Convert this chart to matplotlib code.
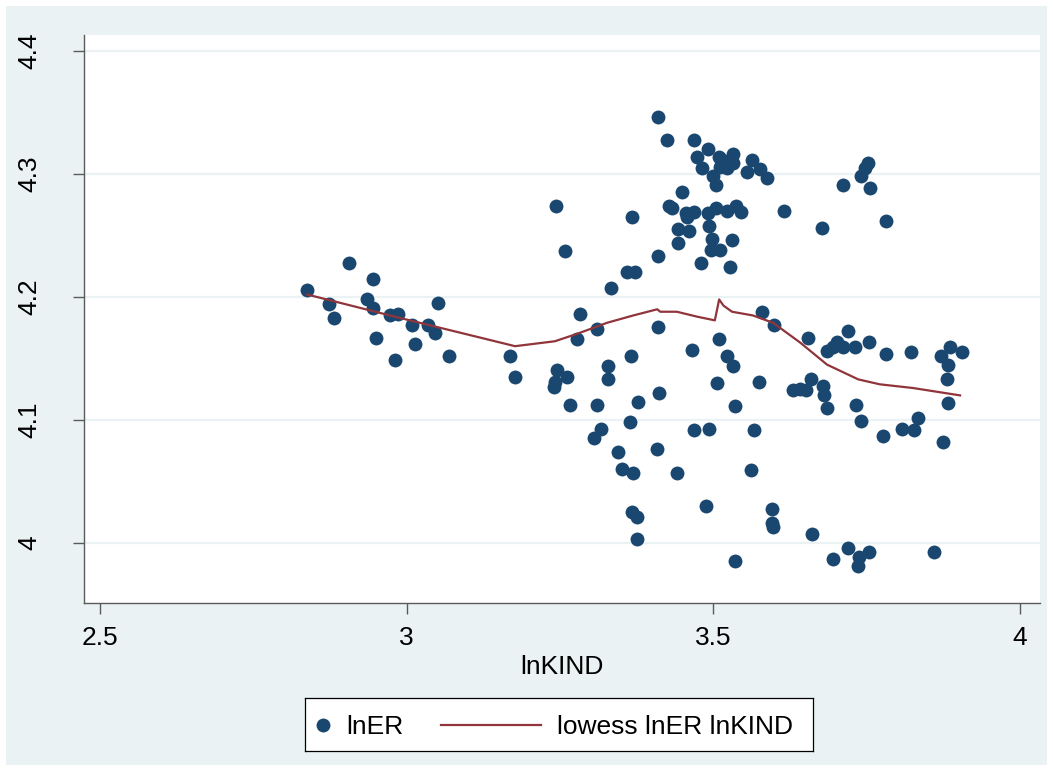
import matplotlib
matplotlib.use("Agg")
from matplotlib import pyplot as plt
from matplotlib.patches import Rectangle
from matplotlib.lines import Line2D

plt.rcParams['font.family'] = ['Liberation Sans', 'DejaVu Sans']

# scatter data
lnKIND = [2.838, 2.874, 2.882, 2.906, 2.945, 2.936, 2.945, 2.950, 2.973, 2.986,
          2.981, 3.009, 3.014, 3.035, 3.047, 3.051, 3.069,
          3.169, 3.177, 3.244, 3.259, 3.242, 3.241, 3.246, 3.262, 3.267, 3.283,
          3.311, 3.278, 3.311, 3.306, 3.317, 3.329, 3.329, 3.334, 3.360, 3.373,
          3.368, 3.366, 3.365, 3.345, 3.352, 3.370, 3.368, 3.376, 3.376, 3.378,
          3.410, 3.425, 3.410, 3.410, 3.412, 3.409, 3.441, 3.449, 3.428, 3.433,
          3.443, 3.443, 3.456, 3.458, 3.461, 3.469, 3.469, 3.474, 3.492, 3.482,
          3.510, 3.515, 3.533, 3.533, 3.523, 3.511, 3.500, 3.505, 3.492, 3.505,
          3.523, 3.538, 3.546, 3.493, 3.498, 3.497, 3.511, 3.531, 3.480, 3.528,
          3.466, 3.510, 3.523, 3.533, 3.507, 3.469, 3.493, 3.489, 3.536,
          3.564, 3.555, 3.577, 3.588, 3.616, 3.580, 3.600, 3.575, 3.567, 3.562,
          3.596, 3.596, 3.598, 3.536,
          3.655, 3.686, 3.696, 3.702, 3.712, 3.720, 3.732, 3.755, 3.782, 3.823,
          3.872, 3.887, 3.883, 3.906, 3.882, 3.883,
          3.631, 3.642, 3.652, 3.660, 3.679, 3.681, 3.686, 3.733, 3.741, 3.777,
          3.808, 3.828, 3.834, 3.875,
          3.662, 3.720, 3.696, 3.738, 3.755, 3.737, 3.861,
          3.753, 3.748, 3.741, 3.712, 3.756, 3.678, 3.782]

lnER = [4.206, 4.194, 4.183, 4.228, 4.215, 4.198, 4.191, 4.167, 4.185, 4.186,
        4.149, 4.177, 4.162, 4.177, 4.171, 4.195, 4.152,
        4.152, 4.135, 4.274, 4.237, 4.131, 4.127, 4.141, 4.135, 4.112, 4.186,
        4.174, 4.166, 4.112, 4.085, 4.093, 4.144, 4.133, 4.207, 4.220, 4.220,
        4.265, 4.152, 4.098, 4.074, 4.060, 4.057, 4.025, 4.021, 4.003, 4.115,
        4.346, 4.328, 4.233, 4.176, 4.122, 4.076, 4.057, 4.285, 4.274, 4.272,
        4.255, 4.244, 4.268, 4.265, 4.254, 4.269, 4.328, 4.314, 4.320, 4.305,
        4.314, 4.311, 4.316, 4.309, 4.305, 4.306, 4.298, 4.291, 4.268, 4.272,
        4.270, 4.274, 4.269, 4.258, 4.247, 4.238, 4.238, 4.246, 4.228, 4.224,
        4.157, 4.166, 4.152, 4.144, 4.130, 4.092, 4.093, 4.030, 4.111,
        4.311, 4.302, 4.304, 4.297, 4.270, 4.188, 4.177, 4.131, 4.092, 4.059,
        4.028, 4.016, 4.013, 3.985,
        4.167, 4.156, 4.159, 4.163, 4.159, 4.172, 4.159, 4.163, 4.154, 4.155,
        4.152, 4.159, 4.145, 4.155, 4.133, 4.114,
        4.124, 4.125, 4.124, 4.133, 4.128, 4.120, 4.110, 4.112, 4.099, 4.087,
        4.093, 4.092, 4.102, 4.082,
        4.007, 3.996, 3.987, 3.989, 3.993, 3.981, 3.993,
        4.309, 4.305, 4.298, 4.291, 4.289, 4.256, 4.262]

# lowess smoother
lowess_x = [2.838, 2.989, 3.120, 3.177, 3.242, 3.278, 3.327, 3.370, 3.409, 3.414,
            3.441, 3.474, 3.503, 3.510, 3.517, 3.531, 3.565, 3.598, 3.642, 3.686,
            3.737, 3.772, 3.826, 3.903]
lowess_y = [4.202, 4.183, 4.167, 4.160, 4.164, 4.170, 4.179, 4.185, 4.190, 4.188,
            4.188, 4.184, 4.181, 4.198, 4.193, 4.188, 4.185, 4.179, 4.163, 4.145,
            4.133, 4.129, 4.126, 4.120]

x_ticks = [2.5, 3, 3.5, 4]
x_labels = ['2.5', '3', '3.5', '4']
y_ticks = [4, 4.1, 4.2, 4.3, 4.4]
y_labels = ['4', '4.1', '4.2', '4.3', '4.4']

NAVY = '#1a476f'
MAROON = '#90353b'
BG = '#eaf2f3'
FS = 19

W, H = 1053, 771
fig = plt.figure(figsize=(W / 100, H / 100), dpi=100, facecolor='white')
fig.patches.append(Rectangle((6 / W, 6 / H), 1041 / W, 759 / H,
                             transform=fig.transFigure, facecolor=BG,
                             edgecolor='none', zorder=-10))

ax = fig.add_axes([84 / W, 1 - 603 / H, 956 / W, 568 / H])
ax.set_facecolor('white')

for yt in y_ticks:
    ax.axhline(yt, color=BG, lw=1.6, zorder=1)

ax.scatter(lnKIND, lnER, s=100, color=NAVY, linewidths=0, zorder=3)
ax.plot(lowess_x, lowess_y, color=MAROON, lw=1.6, zorder=4)

ax.set_xlim(2.4739, 4.0334)
ax.set_ylim(3.9512, 4.4130)
ax.set_xticks(x_ticks)
ax.set_xticklabels(x_labels)
ax.set_yticks(y_ticks)
ax.set_yticklabels(y_labels, rotation=90, va='center')

for side in ['top', 'right']:
    ax.spines[side].set_visible(False)
for side in ['left', 'bottom']:
    ax.spines[side].set_color('#5a5a5a')
    ax.spines[side].set_linewidth(1.0)

ax.tick_params(axis='x', length=8, width=1, color='#5a5a5a', labelsize=FS, pad=8.5)
ax.tick_params(axis='y', length=8, width=1, color='#5a5a5a', labelsize=FS, pad=23)
ax.set_xlabel('lnKIND', fontsize=FS, labelpad=4)

# legend box drawn in its own axes (pixel units)
lax = fig.add_axes([305 / W, 1 - 751 / H, 508 / W, 53 / H])
lax.set_xlim(0, 508)
lax.set_ylim(0, 53)
lax.set_xticks([])
lax.set_yticks([])
for sp in lax.spines.values():
    sp.set_color('black')
    sp.set_linewidth(0.9)
lax.add_line(Line2D([18], [26.5], marker='o', markersize=10, color=NAVY,
                    markeredgewidth=0, linestyle='none'))
lax.text(41, 26.5, 'lnER', fontsize=FS, va='center_baseline', ha='left')
lax.add_line(Line2D([136, 236], [26.5, 26.5], color=MAROON, lw=1.6))
lax.text(252, 26.5, 'lowess lnER lnKIND', fontsize=FS, va='center_baseline', ha='left')

fig.savefig('out.png', dpi=100, facecolor=fig.get_facecolor())
